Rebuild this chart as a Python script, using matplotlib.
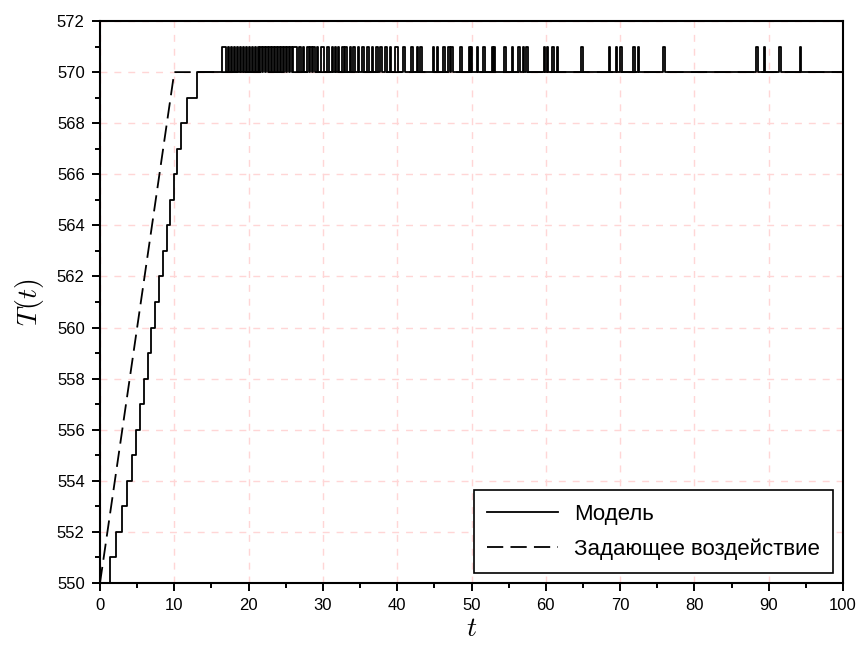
import matplotlib
matplotlib.use("Agg")
import matplotlib.pyplot as plt
from matplotlib.ticker import MultipleLocator

plt.rcParams['font.family'] = ['Liberation Sans', 'DejaVu Sans']
plt.rcParams['mathtext.fontset'] = 'cm'

# model: staircase rise
step_times = [1.4, 2.2, 3.0, 3.7, 4.3, 4.8, 5.4, 5.9, 6.4, 6.9,
              7.4, 7.9, 8.5, 9.0, 9.4, 9.9, 10.3, 10.9, 11.7, 13.1]
step_values = list(range(551, 571))

# model: short jumps up to 571 (start, end)
spike_start = [16.4, 17.2, 17.6, 18.0, 18.4, 18.8, 19.2, 19.6, 20.0, 20.4,
               20.8, 21.2, 21.6, 22.0, 22.4, 22.8, 23.2, 23.6, 24.0, 24.4,
               24.8, 25.2, 25.6, 26.0, 26.8,
               27.3, 27.9, 28.3, 28.7, 29.2, 29.7, 30.5, 31.2, 31.6, 32.0,
               32.6, 33.0, 33.6, 34.1, 34.7, 35.3, 35.9, 36.6, 37.2, 37.7,
               38.4, 39.0, 39.7, 40.8, 41.9, 42.6, 43.1, 44.8, 45.3, 46.2,
               46.9, 47.3, 48.5, 49.6, 49.9, 50.7, 51.6, 52.7, 53.0, 54.4,
               55.4, 56.3, 56.9, 57.4, 59.7, 60.1, 60.9, 61.5, 64.8, 68.5,
               69.4, 70.0, 71.8, 72.4, 75.8, 88.3, 89.3, 91.4, 94.2]
spike_end = [17.0, 17.4, 17.8, 18.2, 18.6, 19.0, 19.4, 19.8, 20.2, 20.6,
             21.0, 21.4, 21.8, 22.2, 22.6, 23.0, 23.4, 23.8, 24.2, 24.6,
             25.0, 25.4, 25.8, 26.5, 27.0,
             27.5, 28.1, 28.5, 28.9, 29.4, 30.1, 30.8, 31.4, 31.8, 32.2,
             32.8, 33.2, 33.8, 34.3, 34.9, 35.5, 36.2, 36.8, 37.4, 37.9,
             38.6, 39.2, 40.1, 41.0, 42.1, 42.8, 43.3, 45.0, 45.5, 46.4,
             47.1, 47.5, 48.7, 49.8, 50.1, 50.9, 51.8, 52.9, 53.2, 54.6,
             55.6, 56.5, 57.1, 57.6, 59.9, 60.3, 61.1, 61.7, 65.0, 68.7,
             69.6, 70.2, 72.0, 72.6, 76.0, 88.5, 89.5, 91.6, 94.4]

t_end = 100
ref_t = [0, 10, 100]
ref_T = [550, 570, 570]

# build step data
model_t = [0]
model_T = [550]
for t, v in zip(step_times, step_values):
    model_t.append(t)
    model_T.append(v)
for s, e in zip(spike_start, spike_end):
    model_t.append(s)
    model_T.append(571)
    model_t.append(e)
    model_T.append(570)
model_t.append(t_end)
model_T.append(570)

fig = plt.figure(figsize=(8.59, 6.53), dpi=100)
ax = fig.add_axes([0.1164, 0.1072, 0.865, 0.8606])

ax.plot(model_t, model_T, color='black', linewidth=1.3, drawstyle='steps-post', label='Модель')
ax.plot(ref_t, ref_T, color='black', linewidth=1.3, dashes=(9, 4), label='Задающее воздействие')

ax.set_xlim(0, 100)
ax.set_ylim(550, 572)
ax.xaxis.set_major_locator(MultipleLocator(10))
ax.xaxis.set_minor_locator(MultipleLocator(5))
ax.yaxis.set_major_locator(MultipleLocator(2))
ax.yaxis.set_minor_locator(MultipleLocator(1))
ax.tick_params(which='major', direction='out', length=6, width=1.4, labelsize=12, pad=5)
ax.tick_params(which='minor', direction='out', length=3.5, width=1.4)
ax.tick_params(top=False, right=False)
for sp in ax.spines.values():
    sp.set_linewidth(1.5)

ax.grid(True, which='major', color='#ffd6d6', linestyle=(0, (5, 5)), linewidth=1.0)
ax.set_axisbelow(True)

ax.set_xlabel('$t$', fontsize=20, labelpad=2)
ax.set_ylabel('$T(t)$', fontsize=20, labelpad=8)

leg = ax.legend(loc='lower right', fontsize=16, handlelength=3.2, handletextpad=0.7,
                fancybox=False, edgecolor='black', framealpha=1,
                borderaxespad=0.45, labelspacing=0.6, borderpad=0.6)
leg.get_frame().set_linewidth(1.2)

fig.savefig('out.png', dpi=100)
